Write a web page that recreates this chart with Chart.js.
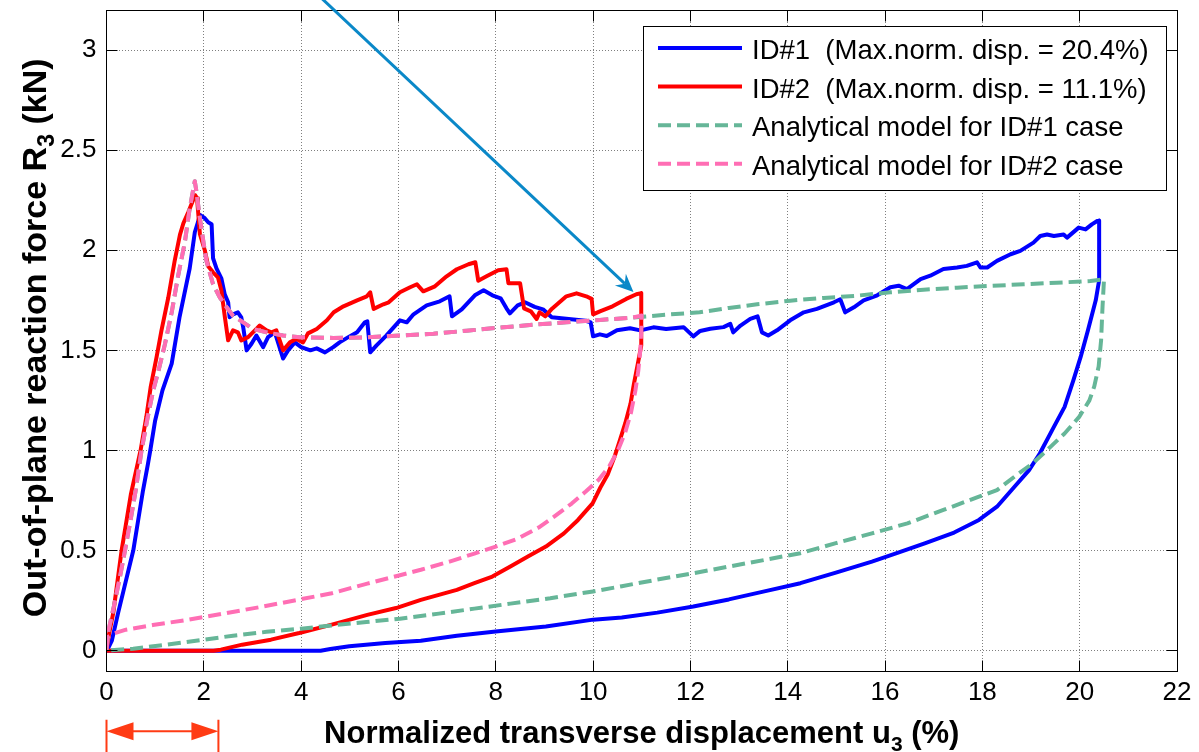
<!DOCTYPE html>
<html>
<head>
<meta charset="utf-8">
<title>Out-of-plane reaction force vs normalized transverse displacement</title>
<script src="https://cdn.jsdelivr.net/npm/chart.js@4.4.1/dist/chart.umd.min.js"></script>
<style>
  html, body { margin: 0; padding: 0; background: #ffffff; }
  #wrap { width: 1199px; height: 752px; position: relative; }
</style>
</head>
<body>
<div id="wrap"><canvas id="chart" width="1199" height="752"></canvas></div>
<script>
// ---------------- data ----------------
const xTickValues = [0, 2, 4, 6, 8, 10, 12, 14, 16, 18, 20, 22];
const xTickLabels = ['0', '2', '4', '6', '8', '10', '12', '14', '16', '18', '20', '22'];
const yTickValues = [0, 0.5, 1, 1.5, 2, 2.5, 3];
const yTickLabels = ['0', '0.5', '1', '1.5', '2', '2.5', '3'];

const seriesLabels = [
  'ID#1  (Max.norm. disp. = 20.4%)',
  'ID#2  (Max.norm. disp. = 11.1%)',
  'Analytical model for ID#1 case',
  'Analytical model for ID#2 case'
];

// test ID#1: loading, plateau to 20.4 %, unloading back to zero
const id1Points = [
  [0,0],[0.05,0.02],[0.11,0.05],[0.24,0.19],[0.35,0.3],[0.45,0.4],[0.55,0.5],[0.65,0.65],[0.75,0.8],[0.85,0.93],
  [0.9,1.0],[1.0,1.15],[1.15,1.3],[1.34,1.434],[1.5,1.665],[1.71,1.91],[1.815,2.09],[1.88,2.14],[1.92,2.177],[2.02,2.16],
  [2.09,2.14],[2.16,2.13],[2.19,1.96],[2.26,1.91],[2.36,1.86],[2.43,1.78],[2.5,1.74],[2.53,1.665],[2.6,1.68],[2.7,1.69],
  [2.77,1.665],[2.81,1.615],[2.88,1.5],[2.98,1.533],[3.08,1.574],[3.22,1.516],[3.32,1.566],[3.46,1.59],[3.63,1.459],[3.73,1.5],
  [3.87,1.54],[4.0,1.516],[4.19,1.5],[4.32,1.51],[4.49,1.49],[4.66,1.516],[4.79,1.54],[4.97,1.566],[5.15,1.59],[5.31,1.64],
  [5.36,1.645],[5.42,1.49],[5.55,1.525],[5.75,1.574],[6.03,1.65],[6.17,1.64],[6.31,1.68],[6.58,1.725],[6.85,1.745],[7.05,1.77],
  [7.1,1.67],[7.3,1.705],[7.57,1.775],[7.75,1.8],[7.93,1.775],[8.1,1.76],[8.22,1.71],[8.29,1.685],[8.45,1.725],[8.6,1.74],
  [8.8,1.717],[8.97,1.705],[9.15,1.665],[9.45,1.658],[9.85,1.648],[9.95,1.64],[10.0,1.57],[10.14,1.58],[10.28,1.572],[10.49,1.6],
  [10.76,1.61],[10.97,1.6],[11.24,1.615],[11.5,1.607],[11.86,1.616],[12.06,1.57],[12.2,1.597],[12.41,1.608],[12.68,1.616],[12.82,1.632],
  [12.88,1.59],[13.03,1.624],[13.23,1.657],[13.38,1.67],[13.47,1.59],[13.6,1.574],[13.78,1.6],[14.05,1.65],[14.33,1.69],[14.6,1.707],
  [14.95,1.74],[15.08,1.755],[15.18,1.69],[15.36,1.715],[15.56,1.75],[15.84,1.775],[16.11,1.815],[16.28,1.823],[16.45,1.806],[16.73,1.856],
  [16.93,1.873],[17.2,1.906],[17.48,1.914],[17.68,1.922],[17.89,1.94],[17.96,1.914],[18.1,1.914],[18.3,1.947],[18.58,1.98],[18.78,1.997],
  [19.05,2.038],[19.19,2.071],[19.33,2.079],[19.47,2.071],[19.67,2.079],[19.74,2.063],[19.98,2.113],[20.12,2.104],[20.25,2.129],[20.36,2.146],
  [20.4,2.148],[20.4,1.85],[20.33,1.75],[20.17,1.6],[20.02,1.467],[19.87,1.35],[19.69,1.218],[19.47,1.118],[19.18,0.985],[18.96,0.902],
  [18.66,0.819],[18.3,0.719],[17.93,0.653],[17.42,0.59],[16.83,0.537],[16.24,0.487],[15.73,0.445],[14.99,0.39],[14.26,0.337],[13.52,0.296],
  [12.79,0.256],[12.06,0.221],[11.32,0.19],[10.59,0.166],[10.0,0.155],[9.03,0.121],[8.0,0.096],[7.2,0.075],[6.46,0.05],[5.73,0.038],
  [4.99,0.022],[4.6,0.008],[4.4,0],[0,0]
];

// test ID#2: loading, plateau to 11.1 %, unloading back to zero
const id2Points = [
  [0,0],[0.05,0.08],[0.14,0.19],[0.31,0.5],[0.5,0.78],[0.7,1.0],[0.82,1.17],[0.91,1.32],[1.03,1.467],[1.13,1.6],
  [1.27,1.764],[1.4,1.946],[1.51,2.078],[1.58,2.135],[1.68,2.19],[1.82,2.275],[1.86,2.26],[1.88,2.2],[1.92,2.08],[2.02,2.0],
  [2.09,1.92],[2.19,1.89],[2.29,1.865],[2.36,1.8],[2.43,1.67],[2.5,1.55],[2.6,1.6],[2.7,1.59],[2.77,1.55],[2.91,1.566],
  [3.05,1.6],[3.15,1.624],[3.29,1.6],[3.39,1.59],[3.49,1.6],[3.63,1.5],[3.77,1.54],[3.9,1.557],[4.04,1.54],[4.14,1.585],
  [4.32,1.607],[4.53,1.65],[4.67,1.69],[4.87,1.72],[5.15,1.75],[5.35,1.77],[5.42,1.79],[5.49,1.707],[5.69,1.73],[5.8,1.74],
  [6.03,1.79],[6.24,1.815],[6.38,1.83],[6.51,1.795],[6.75,1.82],[6.99,1.87],[7.2,1.905],[7.44,1.93],[7.58,1.94],[7.64,1.848],
  [7.81,1.87],[8.05,1.9],[8.22,1.905],[8.26,1.835],[8.5,1.835],[8.58,1.71],[8.72,1.695],[8.84,1.657],[8.9,1.69],[9.02,1.67],
  [9.15,1.707],[9.45,1.77],[9.66,1.785],[9.86,1.77],[9.97,1.757],[10.0,1.68],[10.14,1.695],[10.4,1.72],[10.68,1.757],[10.89,1.78],
  [10.99,1.786],[10.99,1.525],[10.92,1.434],[10.84,1.334],[10.77,1.234],[10.66,1.135],[10.55,1.051],[10.44,0.968],[10.3,0.88],[10.15,0.815],
  [9.99,0.736],[9.69,0.653],[9.4,0.586],[9.03,0.52],[8.66,0.47],[8.3,0.42],[7.93,0.37],[7.56,0.337],[7.2,0.304],[6.83,0.279],
  [6.46,0.254],[5.95,0.213],[5.36,0.179],[4.63,0.13],[3.96,0.088],[3.38,0.055],[2.79,0.03],[2.35,0.005],[2.2,0],[0,0]
];

// analytical model, ID#1 displacement history
const model1Points = [
  [0,0],[0.04,0.1],[0.15,0.22],[0.27,0.36],[0.38,0.5],[0.5,0.66],[0.6,0.8],[0.72,1.0],[0.85,1.17],[0.96,1.3],
  [1.06,1.39],[1.2,1.53],[1.34,1.69],[1.47,1.87],[1.61,2.04],[1.71,2.21],[1.815,2.345],[1.85,2.29],[1.92,2.16],[1.99,2.045],
  [2.05,1.95],[2.19,1.83],[2.33,1.764],[2.47,1.715],[2.6,1.673],[2.81,1.64],[3.01,1.607],[3.29,1.59],[3.63,1.574],[3.97,1.566],
  [4.66,1.562],[5.34,1.565],[6.03,1.574],[6.72,1.583],[7.4,1.598],[8.09,1.614],[8.77,1.628],[9.45,1.64],[10.14,1.652],[10.82,1.664],
  [11.5,1.678],[12.19,1.69],[12.79,1.712],[13.37,1.73],[14.05,1.748],[14.74,1.762],[15.42,1.773],[16.11,1.79],[16.79,1.803],[17.48,1.813],
  [18.16,1.822],[18.85,1.83],[19.53,1.838],[20.22,1.846],[20.5,1.855],[20.47,1.72],[20.44,1.55],[20.39,1.42],[20.3,1.32],[20.2,1.25],
  [19.99,1.168],[19.69,1.085],[19.4,1.018],[19.03,0.935],[18.66,0.869],[18.3,0.802],[17.93,0.769],[17.2,0.703],[16.46,0.636],[15.73,0.586],
  [14.99,0.537],[14.26,0.487],[13.52,0.453],[12.79,0.42],[12.06,0.387],[11.32,0.355],[10.59,0.322],[10.0,0.296],[9.12,0.262],[8.3,0.235],
  [7.56,0.21],[6.83,0.185],[6.03,0.16],[5.34,0.143],[4.66,0.127],[4.0,0.11],[3.29,0.094],[2.6,0.075],[1.92,0.052],[1.23,0.03],
  [0.55,0.01],[0,0]
];

// analytical model, ID#2 displacement history
const model2Points = [
  [0,0],[0.04,0.1],[0.15,0.22],[0.27,0.36],[0.38,0.5],[0.5,0.66],[0.6,0.8],[0.72,1.0],[0.85,1.17],[0.96,1.3],
  [1.06,1.39],[1.2,1.53],[1.34,1.69],[1.47,1.87],[1.61,2.04],[1.71,2.21],[1.815,2.345],[1.85,2.29],[1.92,2.16],[1.99,2.045],
  [2.05,1.95],[2.19,1.83],[2.33,1.764],[2.47,1.715],[2.6,1.673],[2.81,1.64],[3.01,1.607],[3.29,1.59],[3.63,1.574],[3.97,1.566],
  [4.66,1.562],[5.34,1.565],[6.03,1.574],[6.72,1.583],[7.4,1.598],[8.09,1.614],[8.77,1.628],[9.45,1.64],[10.14,1.652],[10.82,1.664],
  [11.0,1.674],[10.99,1.6],[10.97,1.5],[10.93,1.4],[10.87,1.3],[10.78,1.19],[10.66,1.09],[10.51,1.0],[10.33,0.92],[10.12,0.855],
  [9.85,0.795],[9.56,0.735],[9.2,0.67],[8.88,0.615],[8.44,0.558],[8.0,0.52],[7.56,0.485],[7.05,0.445],[6.46,0.404],[6.03,0.377],
  [5.36,0.335],[4.63,0.287],[3.89,0.252],[3.16,0.218],[2.42,0.186],[1.69,0.155],[0.95,0.128],[0.4,0.105],[0.14,0.085],[0,0.065]
];

// call-out arrow (data units): from above the axes down to the end of the ID#2 plateau
const pointerFrom = [4.24, 3.30];
const pointerTo = [10.83, 1.792];
// displacement span marked under the x axis
const peakSpan = [0, 2.3];

// ---------------- styling ----------------
const FONT = "'Liberation Sans', Arial, Helvetica, sans-serif";
const TICK_SIZE = 26;
const LEGEND_SIZE = 27.5;
const X_TITLE_SIZE = 31;
const Y_TITLE_SIZE = 34;
const SUB_RATIO = 0.68;
const SUB_SHIFT = 8;
const LINE_W = 4;

const toXY = pts => pts.map(([x, y]) => ({ x, y }));

const lineBase = {
  showLine: true, fill: false, pointRadius: 0, pointHoverRadius: 0,
  tension: 0, borderWidth: LINE_W, borderJoinStyle: 'round', borderCapStyle: 'butt'
};

const datasets = [
  Object.assign({}, lineBase, { label: seriesLabels[0], data: toXY(id1Points), borderColor: '#0000ff', order: 4 }),
  Object.assign({}, lineBase, { label: seriesLabels[1], data: toXY(id2Points), borderColor: '#ff0000', order: 3 }),
  Object.assign({}, lineBase, { label: seriesLabels[2], data: toXY(model1Points), borderColor: '#66b698', borderDash: [13, 6], order: 2 }),
  Object.assign({}, lineBase, { label: seriesLabels[3], data: toXY(model2Points), borderColor: '#ff6eb4', borderDash: [13, 6], order: 1 })
];

// plot frame with inward tick marks on all four sides
const framePlugin = {
  id: 'frameTicks',
  afterDatasetsDraw(chart) {
    const { ctx, chartArea: a, scales: { x, y } } = chart;
    const snap = v => Math.floor(v) + 0.5;
    const L = snap(a.left), R = snap(a.right), T = snap(a.top), B = snap(a.bottom);
    const tl = 11;
    ctx.save();
    ctx.strokeStyle = '#000';
    ctx.lineWidth = 1;
    ctx.setLineDash([]);
    ctx.strokeRect(L, T, R - L, B - T);
    ctx.beginPath();
    xTickValues.forEach(v => {
      const px = snap(x.getPixelForValue(v));
      ctx.moveTo(px, B); ctx.lineTo(px, B - tl);
      ctx.moveTo(px, T); ctx.lineTo(px, T + tl);
    });
    yTickValues.forEach(v => {
      const py = snap(y.getPixelForValue(v));
      ctx.moveTo(L, py); ctx.lineTo(L + tl, py);
      ctx.moveTo(R, py); ctx.lineTo(R - tl, py);
    });
    ctx.stroke();
    ctx.restore();
  }
};

// boxed legend in the upper right of the axes
const legendPlugin = {
  id: 'boxLegend',
  afterDraw(chart) {
    const { ctx, chartArea: a } = chart;
    const w = 523, h = 164;
    const right = Math.floor(a.right) - 11;
    const left = right - w;
    const top = Math.floor(a.top) + 16;
    ctx.save();
    ctx.fillStyle = '#ffffff';
    ctx.fillRect(left, top, w, h);
    ctx.strokeStyle = '#000';
    ctx.lineWidth = 1;
    ctx.strokeRect(left + 0.5, top + 0.5, w, h);
    chart.data.datasets.forEach((ds, i) => {
      const ly = top + 22 + i * 38.6;
      ctx.beginPath();
      ctx.setLineDash(ds.borderDash || []);
      ctx.strokeStyle = ds.borderColor;
      ctx.lineWidth = LINE_W;
      ctx.moveTo(left + 15, ly);
      ctx.lineTo(left + 99, ly);
      ctx.stroke();
      ctx.setLineDash([]);
      ctx.fillStyle = '#000';
      ctx.font = `${LEGEND_SIZE}px ${FONT}`;
      ctx.textBaseline = 'alphabetic';
      ctx.textAlign = 'left';
      ctx.fillText(ds.label, left + 109, ly + 11);
    });
    ctx.restore();
  }
};

// axis titles with subscripts
const xTitleRuns = [{ t: 'Normalized transverse displacement u' }, { t: '3', sub: true }, { t: ' (%)' }];
const yTitleRuns = [{ t: 'Out-of-plane reaction force R' }, { t: '3', sub: true }, { t: ' (kN)' }];

const titlePlugin = {
  id: 'axisTitles',
  afterDraw(chart) {
    const { ctx, chartArea: a } = chart;
    const drawRuns = (runs, cx, base, size) => {
      const mainFont = `bold ${size}px ${FONT}`;
      const subFont = `bold ${Math.round(size * SUB_RATIO)}px ${FONT}`;
      let total = 0;
      runs.forEach(r => { ctx.font = r.sub ? subFont : mainFont; r.w = ctx.measureText(r.t).width; total += r.w; });
      let px = cx - total / 2;
      runs.forEach(r => {
        ctx.font = r.sub ? subFont : mainFont;
        ctx.fillText(r.t, px, base + (r.sub ? SUB_SHIFT : 0));
        px += r.w;
      });
    };
    ctx.save();
    ctx.fillStyle = '#000';
    ctx.textAlign = 'left';
    ctx.textBaseline = 'alphabetic';
    drawRuns(xTitleRuns, (a.left + a.right) / 2, a.bottom + 71.5, X_TITLE_SIZE);
    ctx.translate(46, (a.top + a.bottom) / 2 - 3);
    ctx.rotate(-Math.PI / 2);
    drawRuns(yTitleRuns, 0, 0, Y_TITLE_SIZE);
    ctx.restore();
  }
};

// call-out arrows
const arrowPlugin = {
  id: 'callouts',
  afterDraw(chart) {
    const { ctx, chartArea: a, scales: { x, y } } = chart;
    ctx.save();
    // blue leader with swept-back head
    const x0 = x.getPixelForValue(pointerFrom[0]), y0 = y.getPixelForValue(pointerFrom[1]);
    const x1 = x.getPixelForValue(pointerTo[0]), y1 = y.getPixelForValue(pointerTo[1]);
    const len = Math.hypot(x1 - x0, y1 - y0);
    const ux = (x1 - x0) / len, uy = (y1 - y0) / len;
    const nx = -uy, ny = ux;
    const headL = 18, headW = 8, notch = 12;
    ctx.strokeStyle = '#0a88c8';
    ctx.fillStyle = '#0a88c8';
    ctx.lineWidth = 3;
    ctx.beginPath();
    ctx.moveTo(x0, y0);
    ctx.lineTo(x1 - ux * notch, y1 - uy * notch);
    ctx.stroke();
    ctx.beginPath();
    ctx.moveTo(x1, y1);
    ctx.lineTo(x1 - ux * headL + nx * headW, y1 - uy * headL + ny * headW);
    ctx.lineTo(x1 - ux * notch, y1 - uy * notch);
    ctx.lineTo(x1 - ux * headL - nx * headW, y1 - uy * headL - ny * headW);
    ctx.closePath();
    ctx.fill();

    // red double-headed span under the axis
    const sx0 = x.getPixelForValue(peakSpan[0]);
    const sx1 = x.getPixelForValue(peakSpan[1]);
    const ay = a.bottom + 59.5;
    const red = '#ff3b14';
    ctx.strokeStyle = red;
    ctx.fillStyle = red;
    ctx.lineWidth = 2;
    ctx.beginPath();
    ctx.moveTo(sx0, a.bottom + 48); ctx.lineTo(sx0, a.bottom + 82);
    ctx.moveTo(sx1, a.bottom + 48); ctx.lineTo(sx1, a.bottom + 82);
    ctx.moveTo(sx0 + 20, ay); ctx.lineTo(sx1 - 20, ay);
    ctx.stroke();
    const hl = 27, hw = 9;
    ctx.beginPath();
    ctx.moveTo(sx0, ay); ctx.lineTo(sx0 + hl, ay - hw); ctx.lineTo(sx0 + hl, ay + hw); ctx.closePath();
    ctx.moveTo(sx1, ay); ctx.lineTo(sx1 - hl, ay - hw); ctx.lineTo(sx1 - hl, ay + hw); ctx.closePath();
    ctx.fill();
    ctx.restore();
  }
};

const gridColor = 'rgba(0,0,0,0.5)';

new Chart(document.getElementById('chart'), {
  type: 'scatter',
  data: { datasets },
  options: {
    responsive: false,
    animation: false,
    devicePixelRatio: 1,
    layout: { padding: { top: 10, right: 22, left: 0, bottom: 0 } },
    plugins: {
      legend: { display: false },
      tooltip: { enabled: false },
      title: { display: false }
    },
    scales: {
      x: {
        type: 'linear',
        min: 0,
        max: 22,
        afterBuildTicks: s => { s.ticks = xTickValues.map(v => ({ value: v })); },
        afterFit: s => { s.height = 80.3; s.paddingLeft = 0; s.paddingRight = 0; },
        ticks: {
          autoSkip: false, maxRotation: 0, padding: 6, color: '#000',
          font: { family: FONT, size: TICK_SIZE },
          callback: v => xTickLabels[xTickValues.indexOf(v)]
        },
        grid: { color: gridColor, lineWidth: 1, drawTicks: false },
        border: { display: false, dash: [1, 2] }
      },
      y: {
        type: 'linear',
        min: -0.105,
        max: 3.2,
        afterBuildTicks: s => { s.ticks = yTickValues.map(v => ({ value: v })); },
        afterFit: s => { s.width = 106.5; s.paddingTop = 0; s.paddingBottom = 0; },
        ticks: {
          autoSkip: false, padding: 10, color: '#000',
          font: { family: FONT, size: TICK_SIZE },
          callback: v => yTickLabels[yTickValues.indexOf(v)]
        },
        grid: { color: gridColor, lineWidth: 1, drawTicks: false },
        border: { display: false, dash: [1, 2] }
      }
    }
  },
  plugins: [framePlugin, legendPlugin, titlePlugin, arrowPlugin]
});
</script>
</body>
</html>
